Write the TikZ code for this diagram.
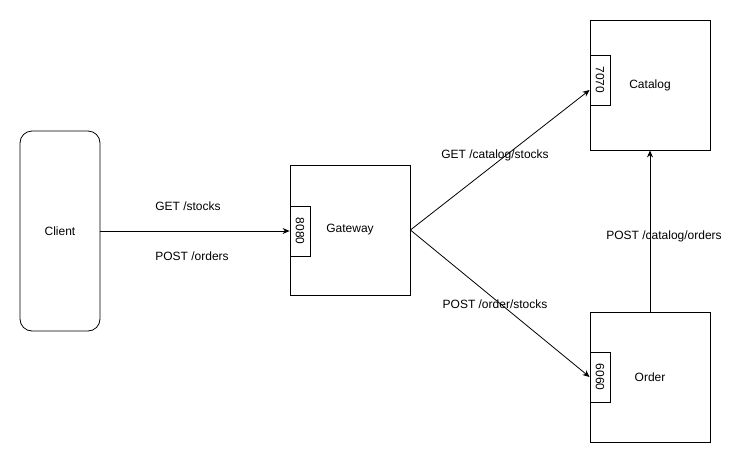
\documentclass[tikz,border=0pt]{standalone}
\usepackage{fontspec}
\setmainfont{Liberation Sans}
\usepackage{tikz}
\usetikzlibrary{arrows.meta}
\tikzset{
	box/.style={draw, line width=0.8pt, minimum width=120pt, minimum height=130pt, inner sep=0pt},
	port/.style={draw, fill=white, line width=0.8pt, minimum width=20pt, minimum height=50pt, inner sep=0pt},
	flow/.style={line width=0.8pt, -{Stealth[length=7pt, width=6pt]}},
	lbl/.style={inner sep=0pt}
}

\begin{document}
\begin{tikzpicture}[x=1pt, y=-1pt, font=\fontsize{12}{14}\selectfont]
		%%%%% START %%%%%
		\useasboundingbox (0, 0) rectangle (751, 463);
		
		\node[draw, line width=0.8pt, rounded corners=12pt, minimum width=80pt, minimum height=200pt] (client) at (60, 231) {Client};
		
		\node[box] (gateway) at (350, 230) {Gateway};
		\node[port] (gwport) at (300, 231) {\rotatebox{-90}{8080}};
		
		\node[box] (catalog) at (650, 85) {Catalog};
		\node[port] (ctport) at (600, 80) {\rotatebox{-90}{7070}};
		
		\node[box] (order) at (650, 377) {Order};
		\node[port] (odport) at (600, 377) {\rotatebox{-90}{6060}};
		
		\draw[flow] (client.east) -- (gwport.west);
		\draw[flow] (gateway.east) -- ([yshift=-10pt]ctport.west);
		\draw[flow] (gateway.east) -- (odport.west);
		\draw[flow] (order.north) -- (catalog.south);
		
		\node[lbl] (getstocks) at (188, 206) {GET /stocks};
		\node[lbl] (postorders) at (192, 256) {POST /orders};
		\node[lbl] (getcatalog) at (495, 155) {GET /catalog/stocks};
		\node[lbl] (postorder) at (495, 304) {POST /order/stocks};
		\node[lbl] (postcatalog) at (664, 236) {POST /catalog/orders};
		%%%%% END %%%%%
	\end{tikzpicture}
\end{document}
